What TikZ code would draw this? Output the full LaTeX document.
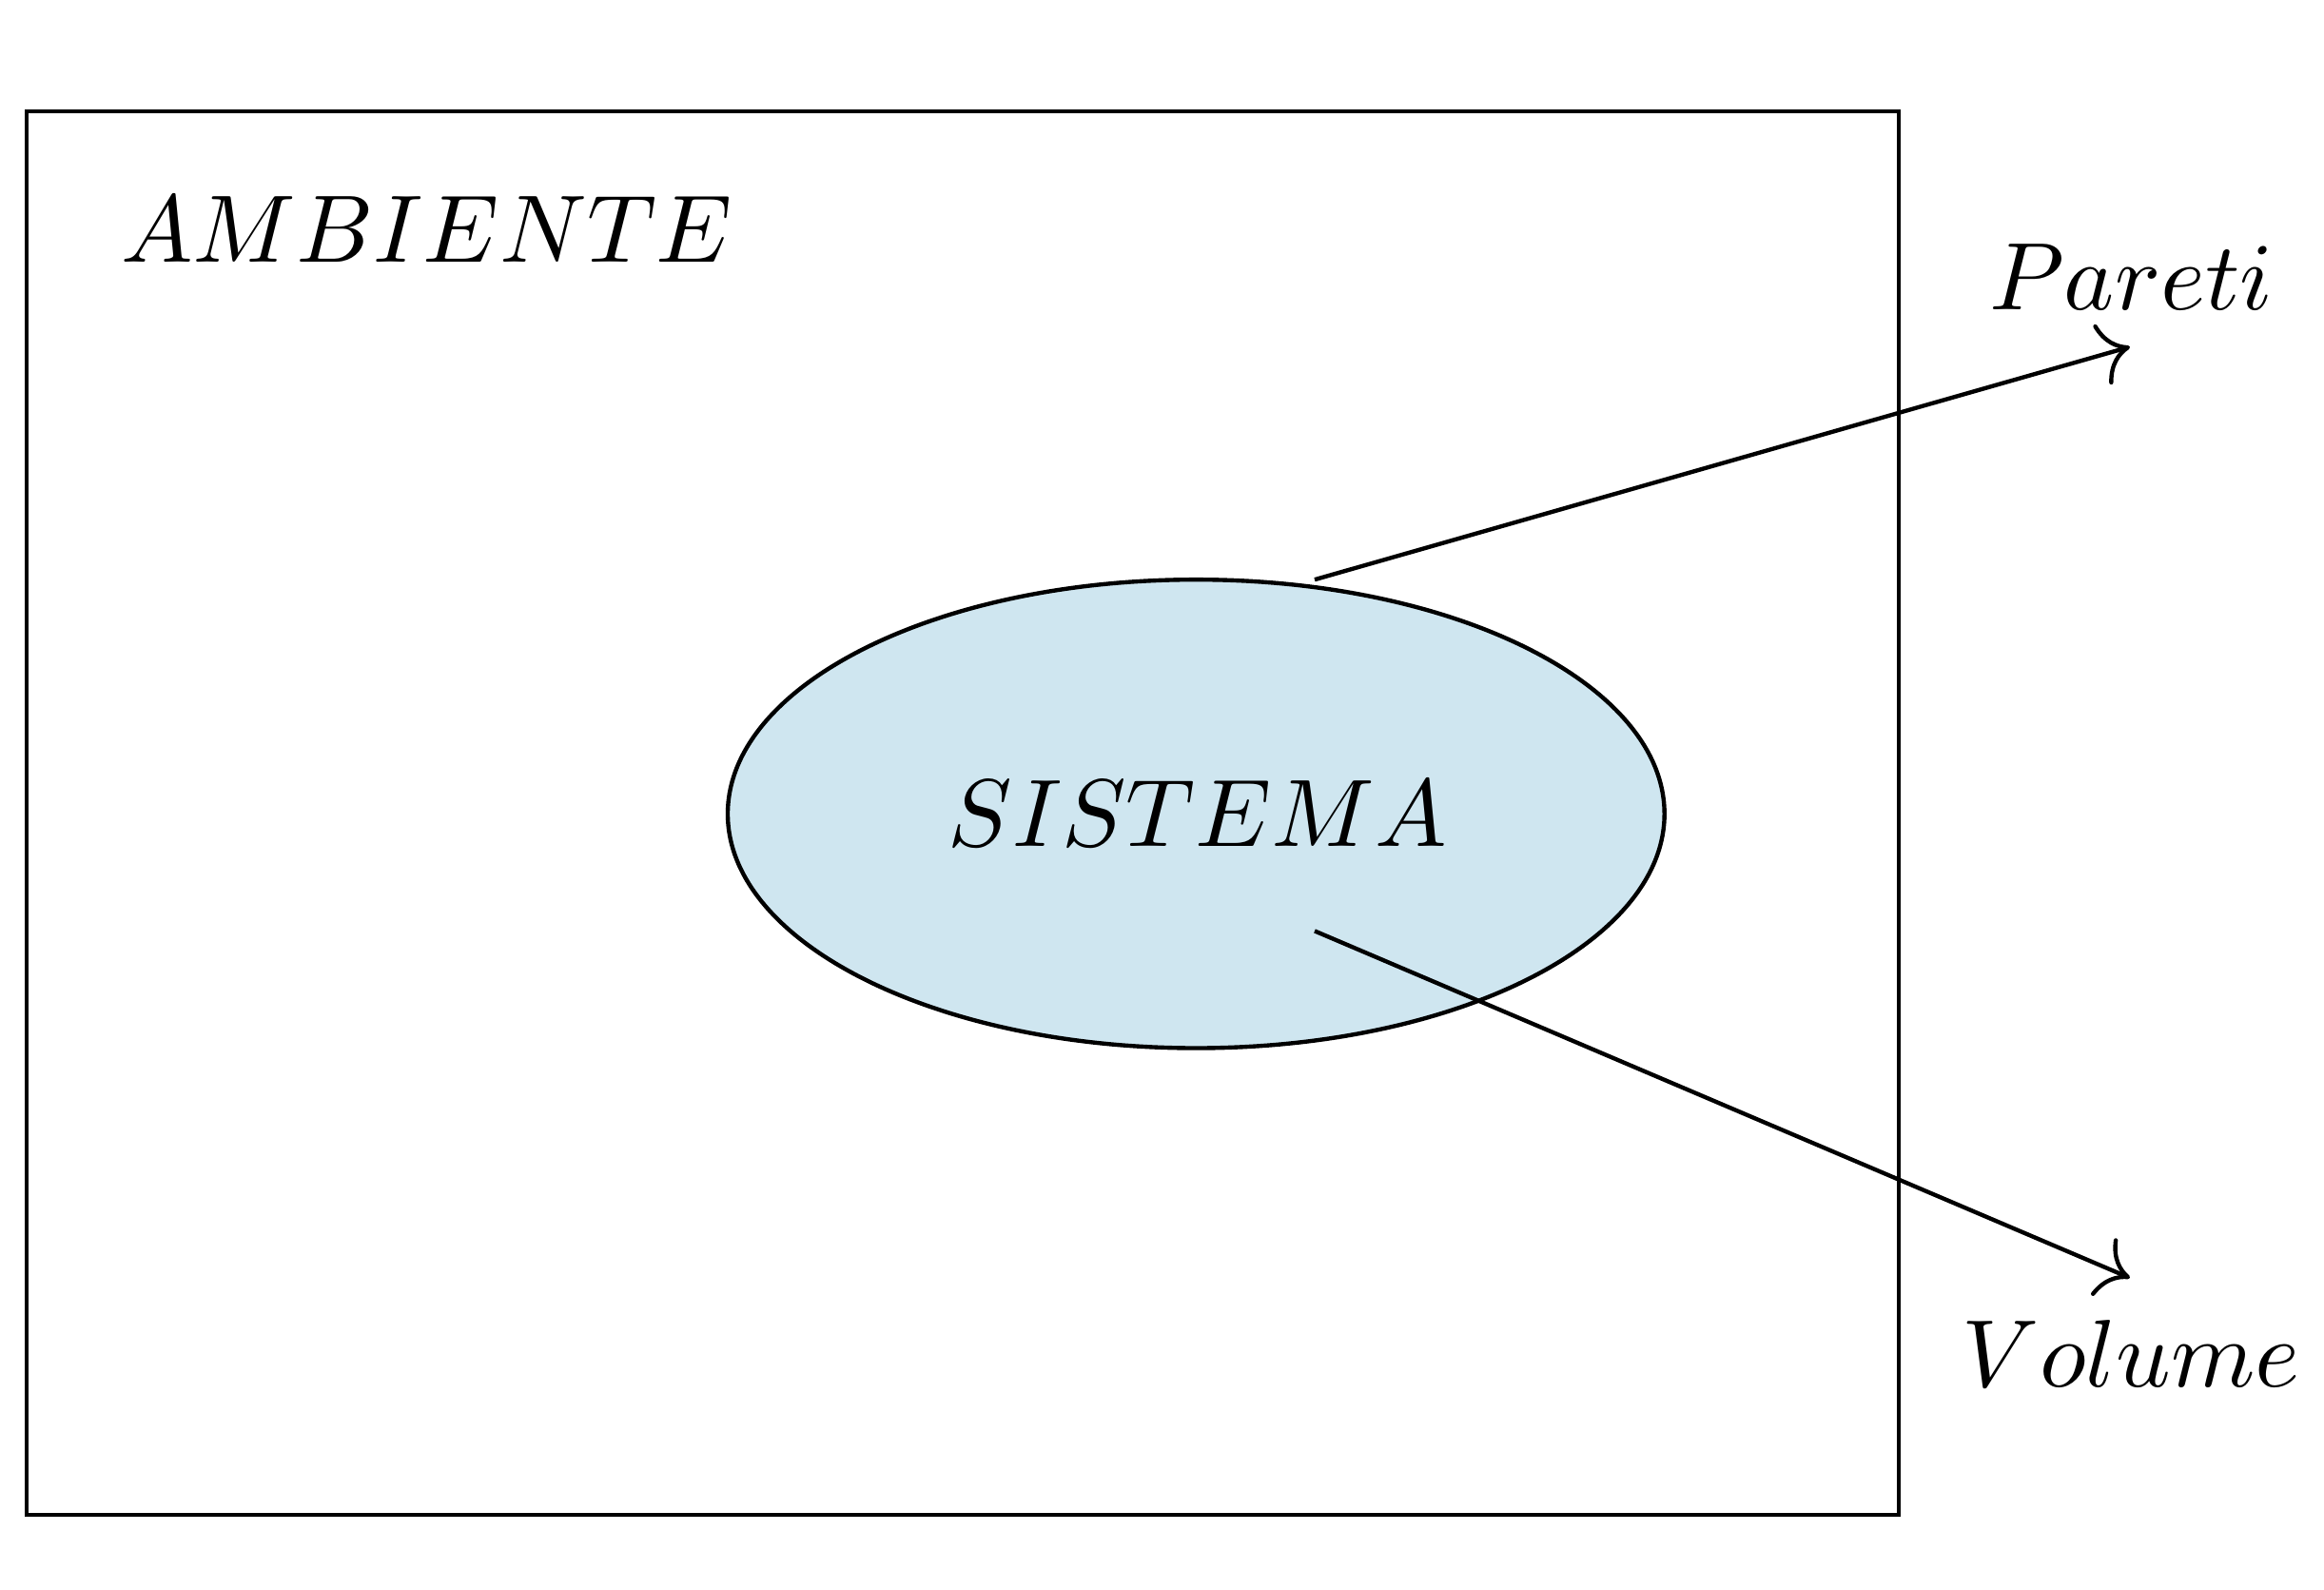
\documentclass[tikz,border=0pt]{standalone}
\usetikzlibrary{arrows.meta}
\definecolor{sistemablue}{RGB}{207,230,240}
\begin{document}
\begin{tikzpicture}[line width=0.8pt]
        \useasboundingbox (0,0) rectangle (15.68,10.72);
        \draw (0.18,0.50) rectangle (12.81,9.97);
        \draw[fill=sistemablue] (8.07,5.23) ellipse (3.16 and 1.58);
        \begin{scope}[every node/.style={scale=1.84,transform shape}]
            \node (amb) at (2.88,9.17) {$AMBIENTE$};
            \node (sis) at (8.08,5.23) {$SISTEMA$};
            \node (par) at (14.38,8.85) {$Pareti$};
            \node (vol) at (14.38,1.59) {$Volume$};
        \end{scope}
        \coordinate (p1) at (8.87,6.81);
        \coordinate (p2) at (14.37,8.38);
        \coordinate (v1) at (8.87,4.44);
        \coordinate (v2) at (14.37,2.10);
        \begin{scope}[every edge/.style={draw=black,-{To[scale=1.7]},line width=0.8pt}]
            \draw (p1) edge (p2);
            \draw (v1) edge (v2);
        \end{scope}
    \end{tikzpicture}
\end{document}
